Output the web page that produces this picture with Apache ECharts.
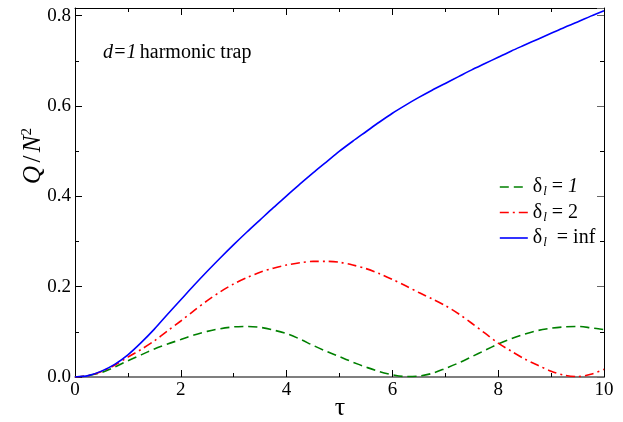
<!DOCTYPE html>
<html>
<head>
<meta charset="utf-8">
<script src="https://cdn.jsdelivr.net/npm/echarts@6/dist/echarts.min.js"></script>
<style>
  html, body { margin: 0; padding: 0; background: #fff; }
  #chart { width: 623px; height: 422px; }
</style>
</head>
<body>
<div id="chart"></div>
<script>
// tau values and Q/N^2
const tau = [0, 0.25, 0.5, 0.75, 1, 1.25, 1.5, 1.75, 2, 2.25, 2.5, 2.75, 3, 3.25, 3.5, 3.75, 4, 4.25, 4.5, 4.75,
  5, 5.25, 5.5, 5.75, 6, 6.25, 6.5, 6.75, 7, 7.25, 7.5, 7.75, 8, 8.25, 8.5, 8.75, 9, 9.25, 9.5, 9.75, 10]
const delta1 = [0, 0.003, 0.010, 0.022, 0.036, 0.049, 0.062, 0.073, 0.083, 0.093, 0.101, 0.107, 0.111, 0.112, 0.110, 0.104, 0.096, 0.084, 0.070, 0.057,
  0.045, 0.033, 0.022, 0.012, 0.005, 0.001, 0.002, 0.008, 0.019, 0.031, 0.045, 0.059, 0.073, 0.085, 0.095, 0.103, 0.108, 0.111, 0.112, 0.109, 0.105]
const delta2 = [0, 0.003, 0.012, 0.026, 0.044, 0.061, 0.080, 0.102, 0.124, 0.147, 0.169, 0.189, 0.206, 0.220, 0.232, 0.241, 0.248, 0.253, 0.256, 0.256,
  0.254, 0.248, 0.240, 0.229, 0.216, 0.202, 0.187, 0.173, 0.158, 0.140, 0.119, 0.097, 0.075, 0.057, 0.040, 0.026, 0.013, 0.004, 0.001, 0.006, 0.017]
const deltaInf = [0, 0.003, 0.013, 0.028, 0.049, 0.076, 0.106, 0.139, 0.171, 0.203, 0.234, 0.264, 0.293, 0.321, 0.348, 0.375, 0.401, 0.427, 0.452, 0.476,
  0.500, 0.522, 0.543, 0.564, 0.584, 0.602, 0.619, 0.635, 0.650, 0.665, 0.680, 0.694, 0.708, 0.722, 0.735, 0.748, 0.761, 0.774, 0.786, 0.799, 0.811]
const xTicks = [0, 2, 4, 6, 8, 10]
const yTicks = [0, 0.2, 0.4, 0.6, 0.8]

const serif = '"Liberation Serif", "DejaVu Serif", serif'
const pairs = arr => tau.map((t, i) => [t, arr[i]])

const green = '#008000'
const red = '#ff0000'
const blue = '#0000ff'
const dash1 = [9, 5]
const dash2 = [9, 4, 2, 4]

const chart = echarts.init(document.getElementById('chart'), null, { renderer: 'canvas' })

const baseAxis = {
  type: 'value',
  axisLine: { show: true, onZero: false, lineStyle: { color: '#000', width: 1 } },
  axisTick: { show: true, inside: true, length: 7, lineStyle: { color: '#000' } },
  minorTick: { show: true, splitNumber: 2, length: 4, lineStyle: { color: '#000' } },
  splitLine: { show: false },
  minorSplitLine: { show: false }
}

const legendText = {
  '1': '{d|δ}{s|l}{t| = }{i|1}',
  '2': '{d|δ}{s|l}{t| = 2}',
  'inf': '{d|δ}{s|l}{t|  = inf}'
}

chart.setOption({
  animation: false,
  backgroundColor: '#fff',
  grid: { left: 75, right: 19, top: 8, bottom: 45, show: false },
  xAxis: [
    Object.assign({}, baseAxis, {
      min: 0, max: 10, interval: 2,
      axisLine: { show: true, onZero: false, lineStyle: { color: '#555', width: 1.5 } },
      axisLabel: {
        color: '#000', fontFamily: serif, fontSize: 19, margin: 4,
        formatter: v => xTicks.includes(v) ? String(v) : ''
      }
    }),
    Object.assign({}, baseAxis, {
      position: 'top', min: 0, max: 10, interval: 2,
      axisLabel: { show: false }
    })
  ],
  yAxis: [
    Object.assign({}, baseAxis, {
      min: 0, max: 0.817, interval: 0.2,
      axisLabel: {
        color: '#000', fontFamily: serif, fontSize: 19, margin: 4,
        showMaxLabel: false,
        formatter: v => yTicks.some(t => Math.abs(t - v) < 1e-6) ? v.toFixed(1) : ''
      }
    }),
    Object.assign({}, baseAxis, {
      position: 'right', min: 0, max: 0.817, interval: 0.2,
      axisTick: { show: true, inside: true, length: 7, lineStyle: { color: '#666' } },
      axisLabel: { show: false }
    })
  ],
  legend: {
    orient: 'vertical',
    left: 494, top: 172,
    itemWidth: 28, itemHeight: 14, itemGap: 4,
    itemStyle: { opacity: 0 },
    data: [
      { name: '1', lineStyle: { color: green, width: 1.6, type: dash1 } },
      { name: '2', lineStyle: { color: red, width: 1.6, type: dash2 } },
      { name: 'inf', lineStyle: { color: blue, width: 1.6, type: 'solid' } }
    ],
    formatter: name => legendText[name],
    textStyle: {
      color: '#000',
      padding: [0, 0, 0, 0],
      rich: {
        d: { fontFamily: serif, fontSize: 20, color: '#000' },
        s: { fontFamily: serif, fontSize: 13, fontStyle: 'italic', color: '#000', padding: [10, 0, 0, 1] },
        t: { fontFamily: serif, fontSize: 20, color: '#000' },
        i: { fontFamily: serif, fontSize: 20, fontStyle: 'italic', color: '#000' }
      }
    }
  },
  graphic: [
    {
      type: 'text', left: 103, top: 43,
      style: {
        text: '{i|d=1} {n|harmonic trap}',
        rich: {
          i: { fontFamily: serif, fontSize: 20, fontStyle: 'italic', fill: '#000' },
          n: { fontFamily: serif, fontSize: 20, fill: '#000' }
        }
      }
    },
    {
      type: 'text', x: 33, y: 156, rotation: Math.PI / 2,
      style: {
        text: '{i|Q} {n|/} {i|N}{p|2}',
        align: 'center', verticalAlign: 'middle',
        rich: {
          i: { fontFamily: serif, fontSize: 25, fontStyle: 'italic', fill: '#000' },
          n: { fontFamily: serif, fontSize: 25, fill: '#000' },
          p: { fontFamily: serif, fontSize: 15, fill: '#000', padding: [0, 0, 12, 0] }
        }
      }
    },
    {
      type: 'text', x: 340, y: 408,
      style: {
        text: 'τ', align: 'center', verticalAlign: 'middle',
        fontFamily: serif, fontSize: 26, fill: '#000'
      }
    }
  ],
  series: [
    {
      name: '1', type: 'line', data: pairs(delta1), smooth: 0.3,
      symbol: 'none', showSymbol: false, color: green,
      lineStyle: { color: green, width: 1.6, type: dash1 }
    },
    {
      name: '2', type: 'line', data: pairs(delta2), smooth: 0.3,
      symbol: 'none', showSymbol: false, color: red,
      lineStyle: { color: red, width: 1.6, type: dash2 }
    },
    {
      name: 'inf', type: 'line', data: pairs(deltaInf), smooth: 0.3,
      symbol: 'none', showSymbol: false, color: blue,
      lineStyle: { color: blue, width: 1.6 }
    }
  ]
})
</script>
</body>
</html>
